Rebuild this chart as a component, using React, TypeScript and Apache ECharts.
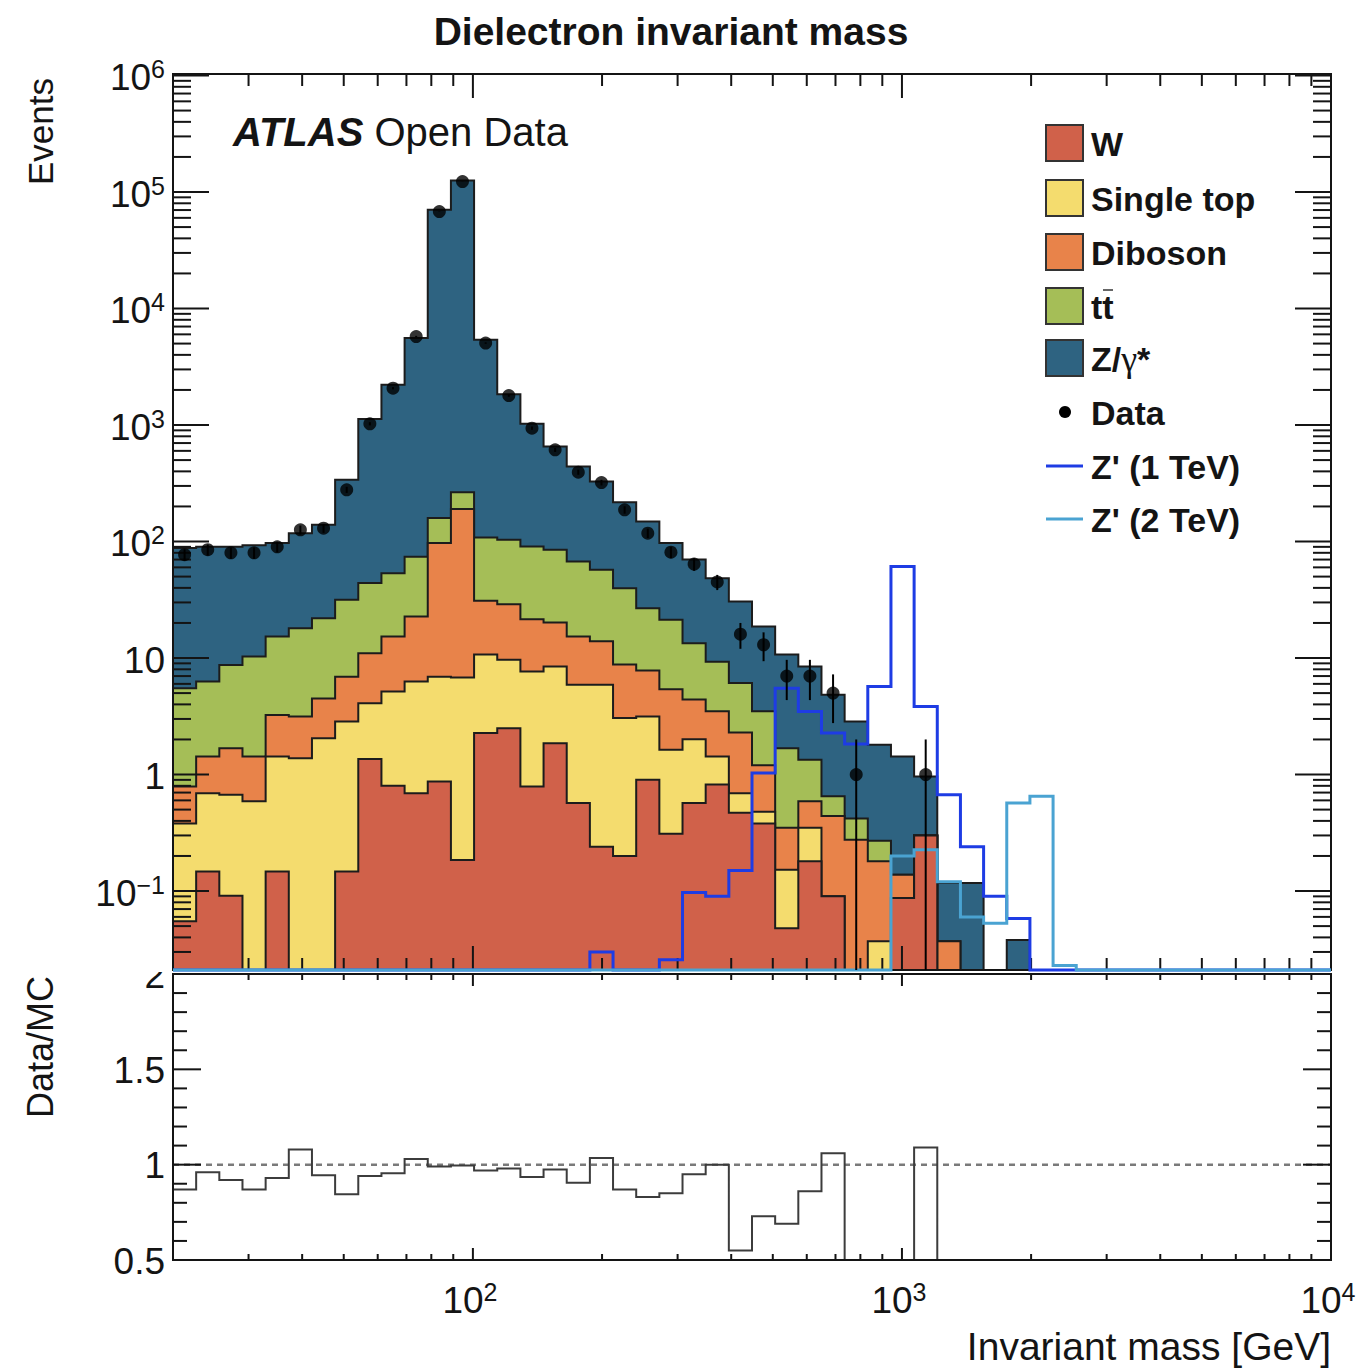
import React, { useEffect, useRef } from 'react';
import * as echarts from 'echarts';

// ---- binning / axis ranges ----
const N_BINS = 50;
const X_MIN = 20;
const X_MAX = 10000;
const Y_MIN = 0.021;
const Y_MAX = 1.03e6;
const R_MIN = 0.5;
const R_MAX = 2;

// ---- stacked backgrounds (events per bin), bottom to top ----
const W_VALUES = [
  0.055, 0.147, 0.091, 0, 0.147, 0, 0, 0.147, 1.36, 0.8,
  0.69, 0.87, 0.185, 2.27, 2.5, 0.79, 1.86, 0.57, 0.24, 0.2,
  0.9, 0.31, 0.57, 0.82, 0.47, 0.38, 0.048, 0.18, 0.09, 0,
  0, 0.087, 0.3, 0, 0, 0, 0, 0, 0, 0,
  0, 0, 0, 0, 0, 0, 0, 0, 0, 0,
];
const SINGLE_TOP = [
  0.325, 0.543, 0.579, 0.59, 1.283, 1.38, 2.05, 2.703, 2.74, 4.36,
  5.61, 6.03, 6.615, 8.43, 7.15, 6.87, 6.59, 5.32, 5.65, 2.85,
  2.25, 1.32, 1.44, 0.61, 0.22, 0.1, 0.104, 0.17, 0, 0,
  0.037, 0, 0, 0, 0, 0, 0, 0, 0, 0,
  0, 0, 0, 0, 0, 0, 0, 0, 0, 0,
];
const DIBOSON = [
  0.41, 0.74, 1.01, 0.84, 1.82, 1.77, 2.45, 4.05, 6.9, 10.14,
  16.4, 90.1, 183.2, 20.3, 19.35, 13.84, 11.75, 9.41, 8.01, 5.75,
  4.65, 3.77, 2.39, 2.07, 1.61, 0.72, 0.198, 0.24, 0.35, 0.275,
  0.143, 0.051, 0, 0.037, 0, 0, 0, 0, 0, 0,
  0, 0, 0, 0, 0, 0, 0, 0, 0, 0,
];
const TTBAR = [
  4.71, 4.87, 7.02, 8.87, 12.05, 14.85, 17.5, 24.7, 33, 38.2,
  51.3, 62, 75, 77, 74.5, 69.1, 64.7, 52.1, 43.3, 31,
  19, 15.9, 9, 5.8, 3.8, 2.3, 1.33, 0.75, 0.21, 0.145,
  0.09, 0, 0, 0, 0, 0, 0, 0, 0, 0,
  0, 0, 0, 0, 0, 0, 0, 0, 0, 0,
];
const Z_GAMMA = [
  82.5, 83.7, 81.3, 82.7, 81.7, 100, 117, 307, 1081, 2160,
  5496, 70141, 125335, 5277, 1737, 933, 569, 374, 270, 178,
  122, 75.7, 56.6, 39.2, 24.4, 15.1, 9.02, 7.11, 4.18, 2.43,
  1.53, 1.29, 0.66, 0.08, 0.117, 0, 0.038, 0, 0, 0,
  0, 0, 0, 0, 0, 0, 0, 0, 0, 0,
];

// ---- observed data ----
const DATA = [
  77, 85, 80, 80, 90, 126, 130, 278, 1025, 2070,
  5750, 68000, 123000, 5050, 1790, 940, 612, 394, 321, 187,
  118, 81, 64, 45, 16, 13, 7, 7, 5, 1,
  0, 0, 1, 0, 0, 0, 0, 0, 0, 0,
  0, 0, 0, 0, 0, 0, 0, 0, 0, 0,
];

// ---- signal templates ----
const ZPRIME_1TEV = [
  0, 0, 0, 0, 0, 0, 0, 0, 0, 0,
  0, 0, 0, 0, 0, 0, 0, 0, 0.03, 0,
  0, 0.0257, 0.097, 0.09, 0.15, 1.03, 5.5, 3.47, 2.27, 1.83,
  5.7, 61, 3.84, 0.67, 0.24, 0.09, 0.058, 0, 0, 0,
  0, 0, 0, 0, 0, 0, 0, 0, 0, 0,
];
const ZPRIME_2TEV = [
  0, 0, 0, 0, 0, 0, 0, 0, 0, 0,
  0, 0, 0, 0, 0, 0, 0, 0, 0, 0,
  0, 0, 0, 0, 0, 0, 0, 0, 0, 0,
  0, 0.2, 0.226, 0.12, 0.06, 0.053, 0.57, 0.65, 0.023, 0,
  0, 0, 0, 0, 0, 0, 0, 0, 0, 0,
];

// ---- Data / MC ratio ----
const RATIO = [
  0.87, 0.96, 0.92, 0.87, 0.93, 1.08, 0.945, 0.845, 0.94, 0.955,
  1.03, 0.99, 0.995, 0.97, 0.98, 0.935, 0.975, 0.905, 1.035, 0.87,
  0.83, 0.85, 0.95, 1.0, 0.55, 0.73, 0.69, 0.86, 1.06, 0.36,
  0, 0, 1.09, 0, 0, 0, 0, 0, 0, 0,
  0, 0, 0, 0, 0, 0, 0, 0, 0, 0,
];

// ---- tick labels ----
const X_MAJOR_TICKS = [100, 1000, 10000];
const X_TICK_LABELS = ['{n|10}{s|2}', '{n|10}{s|3}', '{n|10}{s|4}'];
const Y_MAJOR_TICKS = [0.1, 1, 10, 100, 1000, 10000, 100000, 1000000];
const Y_TICK_LABELS = ['{n|10}{s|\u22121}', '{n|1}', '{n|10}', '{n|10}{s|2}', '{n|10}{s|3}', '{n|10}{s|4}', '{n|10}{s|5}', '{n|10}{s|6}'];
const R_MAJOR_TICKS = [0.5, 1, 1.5, 2];
const R_TICK_LABELS = ['0.5', '1', '1.5', '2'];

const LEGEND_FILLS = [
  { name: '{t|W}', color: '#D0614A' },
  { name: '{t|Single top}', color: '#F4DC6E' },
  { name: '{t|Diboson}', color: '#E8834A' },
  { name: '{t|tt}', color: '#A5BE57' },
  { name: '{t|Z/}{g|\u03b3}{t|*}', color: '#2E6381' },
];
const ZP1_COLOR = '#1E3CE4';
const ZP2_COLOR = '#4AA3D2';

const FONT = '"Liberation Sans", Arial, Helvetica, sans-serif';
const SERIF = '"Liberation Serif", "DejaVu Serif", serif';
const INK = '#141414';
const LABEL_SIZE = 37;
const SUP_SIZE = 25;

const EDGES = Array.from({ length: N_BINS + 1 }, (_, i) => X_MIN * Math.pow(X_MAX / X_MIN, i / N_BINS));
const CENTERS = EDGES.slice(0, N_BINS).map((e, i) => Math.sqrt(e * EDGES[i + 1]));
const LAYERS = [W_VALUES, SINGLE_TOP, DIBOSON, TTBAR, Z_GAMMA];
const CUMULATIVE = LAYERS.map((_, k) =>
  W_VALUES.map((__, i) => LAYERS.slice(0, k + 1).reduce((s, arr) => s + arr[i], 0))
);

function logTicks(lo: number, hi: number) {
  const out: { v: number; major: boolean }[] = [];
  for (let e = -3; e <= 7; e++) {
    for (let k = 1; k <= 9; k++) {
      const v = k * Math.pow(10, e);
      if (v >= lo * 0.999 && v <= hi * 1.001) out.push({ v, major: k === 1 });
    }
  }
  return out;
}

function stepPoints(api: any, vals: number[], lo: number, hi: number) {
  const pts: number[][] = [api.coord([EDGES[0], lo])];
  for (let i = 0; i < N_BINS; i++) {
    const v = Math.min(Math.max(vals[i], lo), hi);
    pts.push(api.coord([EDGES[i], v]));
    pts.push(api.coord([EDGES[i + 1], v]));
  }
  pts.push(api.coord([EDGES[N_BINS], lo]));
  return pts;
}

const RICH = {
  n: { fontSize: LABEL_SIZE, fontFamily: FONT, fill: INK, lineHeight: 42, verticalAlign: 'middle' },
  s: { fontSize: SUP_SIZE, fontFamily: FONT, fill: INK, lineHeight: 25, verticalAlign: 'top' },
};
const LEGEND_RICH = {
  t: { fontSize: 34, fontWeight: 'bold', fontFamily: FONT, fill: INK },
  g: { fontSize: 36, fontFamily: SERIF, fill: INK },
};

function buildOption() {
  const hidden = {
    axisLine: { show: false },
    axisTick: { show: false },
    axisLabel: { show: false },
    splitLine: { show: false },
  };

  const series: any[] = [];

  // stacked histograms (drawn from total down to W)
  for (let k = LAYERS.length - 1; k >= 0; k--) {
    const cum = CUMULATIVE[k];
    const color = LEGEND_FILLS[k].color;
    series.push({
      type: 'custom',
      xAxisIndex: 0,
      yAxisIndex: 0,
      z: 2 + (LAYERS.length - 1 - k),
      silent: true,
      data: [[100, 1]],
      renderItem: (_p: any, api: any) => ({
        type: 'polygon',
        shape: { points: stepPoints(api, cum, Y_MIN, Y_MAX) },
        style: { fill: color, stroke: '#1c1c1c', lineWidth: 2, lineJoin: 'miter' },
      }),
    });
  }

  // main frame, ticks and labels
  const xTicks = logTicks(X_MIN, X_MAX);
  const yTicks = logTicks(Y_MIN, Y_MAX);
  series.push({
    type: 'custom',
    xAxisIndex: 0,
    yAxisIndex: 0,
    z: 20,
    silent: true,
    data: [[100, 1]],
    renderItem: (_p: any, api: any) => {
      const children: any[] = [];
      const [xl, yb] = api.coord([X_MIN, Y_MIN]);
      const [xr, yt] = api.coord([X_MAX, Y_MAX]);
      const ln = (x1: number, y1: number, x2: number, y2: number) =>
        children.push({ type: 'line', shape: { x1, y1, x2, y2 }, style: { stroke: INK, lineWidth: 2 } });
      xTicks.forEach((t) => {
        const x = api.coord([t.v, Y_MIN])[0];
        const len = t.major ? 24 : 12;
        ln(x, yb, x, yb - len);
        ln(x, yt, x, yt + len);
      });
      yTicks.forEach((t) => {
        const y = api.coord([X_MIN, t.v])[1];
        const len = t.major ? 36 : 18;
        ln(xl, y, xl + len, y);
        ln(xr, y, xr - len, y);
      });
      children.push({
        type: 'rect',
        shape: { x: xl, y: yt, width: xr - xl, height: yb - yt },
        style: { fill: 'none', stroke: INK, lineWidth: 2 },
      });
      Y_MAJOR_TICKS.forEach((v, i) => {
        const y = api.coord([X_MIN, v])[1];
        children.push({
          type: 'text',
          x: xl - 8,
          y: y + 2,
          style: { text: Y_TICK_LABELS[i], rich: RICH, fontSize: LABEL_SIZE, fontFamily: FONT, fill: INK, align: 'right', verticalAlign: 'middle' },
        });
      });
      return { type: 'group', children };
    },
  });

  // Z' signals
  [
    { vals: ZPRIME_1TEV, color: ZP1_COLOR, z: 30 },
    { vals: ZPRIME_2TEV, color: ZP2_COLOR, z: 31 },
  ].forEach((s) => {
    series.push({
      type: 'custom',
      xAxisIndex: 0,
      yAxisIndex: 0,
      z: s.z,
      silent: true,
      data: [[100, 1]],
      renderItem: (_p: any, api: any) => ({
        type: 'polyline',
        shape: { points: stepPoints(api, s.vals, Y_MIN, Y_MAX) },
        style: { fill: null, stroke: s.color, lineWidth: 3, lineJoin: 'miter' },
      }),
    });
  });

  // data error bars + points
  const dataPts = DATA.map((v, i) => [CENTERS[i], v]).filter((d) => d[1] > 0);
  series.push({
    type: 'custom',
    xAxisIndex: 0,
    yAxisIndex: 0,
    z: 40,
    silent: true,
    data: dataPts,
    renderItem: (_p: any, api: any) => {
      const x = api.value(0);
      const v = api.value(1);
      const err = Math.sqrt(v);
      const p1 = api.coord([x, Math.max(v - err, Y_MIN)]);
      const p2 = api.coord([x, Math.min(v + err, Y_MAX)]);
      return { type: 'line', shape: { x1: p1[0], y1: p1[1], x2: p2[0], y2: p2[1] }, style: { stroke: '#000', lineWidth: 2 } };
    },
  });
  series.push({
    type: 'scatter',
    xAxisIndex: 0,
    yAxisIndex: 0,
    z: 41,
    silent: true,
    symbol: 'circle',
    symbolSize: 13,
    itemStyle: { color: '#000' },
    data: dataPts,
  });

  // ratio panel
  series.push({
    type: 'custom',
    xAxisIndex: 1,
    yAxisIndex: 1,
    z: 5,
    silent: true,
    data: [[100, 1]],
    renderItem: (_p: any, api: any) => {
      const a = api.coord([X_MIN, 1]);
      const b = api.coord([X_MAX, 1]);
      return { type: 'line', shape: { x1: a[0], y1: a[1], x2: b[0], y2: b[1] }, style: { stroke: '#7a7a7a', lineWidth: 2.5, lineDash: [6, 5] } };
    },
  });
  series.push({
    type: 'custom',
    xAxisIndex: 1,
    yAxisIndex: 1,
    z: 6,
    silent: true,
    data: [[100, 1]],
    renderItem: (_p: any, api: any) => ({
      type: 'polyline',
      shape: { points: stepPoints(api, RATIO, R_MIN, R_MAX) },
      style: { fill: null, stroke: '#3c3c3c', lineWidth: 2 },
    }),
  });
  const rTicks = Array.from({ length: 16 }, (_, k) => ({ v: (k + 5) / 10, major: (k + 5) % 5 === 0 }));
  series.push({
    type: 'custom',
    xAxisIndex: 1,
    yAxisIndex: 1,
    z: 20,
    silent: true,
    data: [[100, 1]],
    renderItem: (_p: any, api: any) => {
      const children: any[] = [];
      const [xl, yb] = api.coord([X_MIN, R_MIN]);
      const [xr, yt] = api.coord([X_MAX, R_MAX]);
      const ln = (x1: number, y1: number, x2: number, y2: number) =>
        children.push({ type: 'line', shape: { x1, y1, x2, y2 }, style: { stroke: INK, lineWidth: 2 } });
      xTicks.forEach((t) => {
        const x = api.coord([t.v, R_MIN])[0];
        const len = t.major ? 12 : 6;
        ln(x, yb, x, yb - len);
        ln(x, yt, x, yt + len);
      });
      rTicks.forEach((t) => {
        const y = api.coord([X_MIN, t.v])[1];
        const len = t.major ? 28 : 14;
        ln(xl, y, xl + len, y);
        ln(xr, y, xr - len, y);
      });
      children.push({
        type: 'rect',
        shape: { x: xl, y: yt, width: xr - xl, height: yb - yt },
        style: { fill: 'none', stroke: INK, lineWidth: 2 },
      });
      R_MAJOR_TICKS.forEach((v, i) => {
        const y = api.coord([X_MIN, v])[1];
        children.push({
          type: 'text',
          x: xl - 8,
          y: y + 1,
          style: { text: R_TICK_LABELS[i], fontSize: LABEL_SIZE, fontFamily: FONT, fill: INK, align: 'right', verticalAlign: 'middle' },
        });
      });
      X_MAJOR_TICKS.forEach((v, i) => {
        const x = api.coord([v, R_MIN])[0];
        children.push({
          type: 'text',
          x: x - 3,
          y: yb + 40,
          style: { text: X_TICK_LABELS[i], rich: RICH, fontSize: LABEL_SIZE, fontFamily: FONT, fill: INK, align: 'center', verticalAlign: 'middle' },
        });
      });
      return { type: 'group', children };
    },
  });

  // legend + annotations
  const graphic: any[] = [
    {
      type: 'text', x: 671, y: 31, z: 50,
      style: { text: 'Dielectron invariant mass', fontSize: 39, fontWeight: 'bold', fontFamily: FONT, fill: INK, align: 'center', verticalAlign: 'middle' },
    },
    {
      type: 'text', x: 233, y: 132, z: 50,
      style: {
        text: '{a|ATLAS} {b|Open Data}', fontSize: 40, fontFamily: FONT, fill: INK, verticalAlign: 'middle', align: 'left',
        rich: {
          a: { fontSize: 40, fontFamily: FONT, fontWeight: 'bold', fontStyle: 'italic', fill: INK },
          b: { fontSize: 40, fontFamily: FONT, fill: INK },
        },
      },
    },
    {
      type: 'text', x: 40, y: 78, rotation: Math.PI / 2, z: 50,
      style: { text: 'Events', fontSize: 35, fontFamily: FONT, fill: INK, align: 'right', verticalAlign: 'middle' },
    },
    {
      type: 'text', x: 40, y: 976, rotation: Math.PI / 2, z: 50,
      style: { text: 'Data/MC', fontSize: 36, fontFamily: FONT, fill: INK, align: 'right', verticalAlign: 'middle' },
    },
    {
      type: 'text', x: 1331, y: 1346, z: 50,
      style: { text: 'Invariant mass [GeV]', fontSize: 39, fontFamily: FONT, fill: INK, align: 'right', verticalAlign: 'middle' },
    },
    // cover over the top of the ratio "2" label (hidden behind the upper pad)
    { type: 'rect', z: 60, shape: { x: 100, y: 930, width: 70, height: 42 }, style: { fill: '#fff' } },
  ];
  const rowY = [143, 198, 252, 306, 358, 412, 466, 519];
  LEGEND_FILLS.forEach((f, i) => {
    graphic.push({
      type: 'rect', z: 50,
      shape: { x: 1046, y: rowY[i] - 18, width: 37, height: 36 },
      style: { fill: f.color, stroke: '#333', lineWidth: 2 },
    });
    graphic.push({
      type: 'text', x: 1091, y: rowY[i] + 1, z: 50,
      style: { text: f.name, rich: LEGEND_RICH, fontSize: 34, fontWeight: 'bold', fontFamily: FONT, fill: INK, align: 'left', verticalAlign: 'middle' },
    });
  });
  // bar over the second t of tt
  graphic.push({ type: 'line', z: 51, shape: { x1: 1103, y1: 290, x2: 1113, y2: 290 }, style: { stroke: '#333', lineWidth: 1.5 } });
  graphic.push({ type: 'circle', z: 50, shape: { cx: 1065, cy: rowY[5], r: 6 }, style: { fill: '#000' } });
  graphic.push({
    type: 'text', x: 1091, y: rowY[5] + 1, z: 50,
    style: { text: 'Data', fontSize: 34, fontWeight: 'bold', fontFamily: FONT, fill: INK, align: 'left', verticalAlign: 'middle' },
  });
  [
    { label: "Z' (1 TeV)", color: ZP1_COLOR, y: rowY[6] },
    { label: "Z' (2 TeV)", color: ZP2_COLOR, y: rowY[7] },
  ].forEach((l) => {
    graphic.push({ type: 'line', z: 50, shape: { x1: 1046, y1: l.y, x2: 1083, y2: l.y }, style: { stroke: l.color, lineWidth: 3 } });
    graphic.push({
      type: 'text', x: 1091, y: l.y + 1, z: 50,
      style: { text: l.label, fontSize: 34, fontWeight: 'bold', fontFamily: FONT, fill: INK, align: 'left', verticalAlign: 'middle' },
    });
  });

  return {
    animation: false,
    backgroundColor: '#ffffff',
    grid: [
      { left: 173, top: 74, width: 1158, height: 896 },
      { left: 173, top: 974, width: 1158, height: 286 },
    ],
    xAxis: [
      { type: 'log', logBase: 10, min: X_MIN, max: X_MAX, gridIndex: 0, ...hidden },
      { type: 'log', logBase: 10, min: X_MIN, max: X_MAX, gridIndex: 1, ...hidden },
    ],
    yAxis: [
      { type: 'log', logBase: 10, min: Y_MIN, max: Y_MAX, gridIndex: 0, ...hidden },
      { type: 'value', min: R_MIN, max: R_MAX, gridIndex: 1, ...hidden },
    ],
    series,
    graphic,
  };
}

export default function App() {
  const ref = useRef<HTMLDivElement>(null);
  useEffect(() => {
    document.body.style.margin = '0';
    const chart = echarts.init(ref.current as HTMLDivElement, null, { renderer: 'svg' });
    chart.setOption(buildOption() as any);
    return () => chart.dispose();
  }, []);
  return <div ref={ref} style={{ width: 1364, height: 1368, background: '#fff' }} />;
}
